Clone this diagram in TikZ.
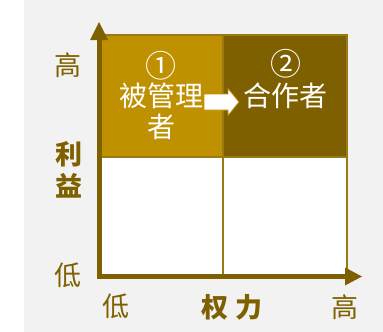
\documentclass[tikz,border=0pt]{standalone}
\usepackage{fontspec}
\newfontfamily\cjk{Noto Sans CJK SC}
\begin{document}
\begin{tikzpicture}[x=1pt,y=-1pt,
  cell/.style={draw=cellline,line width=2pt},
  axis/.style={draw=axisc,line width=5pt},
  tip/.style={fill=axisc},
  intext/.style={text=white,font=\cjk\fontsize{28}{32}\selectfont,inner sep=0pt},
  circ/.style={text=white,font=\cjk\fontsize{31}{34}\selectfont,inner sep=0pt},
  lab/.style={text=axisc,font=\cjk\fontsize{27}{30}\selectfont,inner sep=0pt},
  blab/.style={text=axisc,font=\cjk\bfseries\fontsize{27}{30}\selectfont,inner sep=0pt},
  blockarrow/.style={fill=white,draw=gold,line width=0.8pt,line join=miter}]
\definecolor{gold}{HTML}{BF9000}
\definecolor{dark}{HTML}{7F6000}
\definecolor{axisc}{HTML}{7F6000}
\definecolor{cellline}{HTML}{9A7A14}
\definecolor{bg}{HTML}{F2F2F2}
\useasboundingbox (0,0) rectangle (383,332);
\fill[white] (0,0) rectangle (383,332);
\fill[bg] (24,0) rectangle (383,332);
% cells
\fill[gold] (101,35) rectangle (223,157);
\fill[dark] (223,35) rectangle (347,157);
\fill[white] (101,157) rectangle (223,276);
\fill[white] (223,157) rectangle (347,276);
\draw[cell] (101,35) rectangle (347,276);
\draw[cell] (223,35) -- (223,276);
\draw[cell] (101,157) -- (347,157);
% axes
\coordinate (o) at (99,276.5);
\coordinate (yt) at (99,39);
\coordinate (xt) at (346,276.5);
\draw[axis] (99,279) -- (yt);
\draw[axis] (96.5,276.5) -- (xt);
\fill[tip] (99,22) -- (108,40) -- (90,40) -- cycle;
\fill[tip] (362,276.5) -- (345,267.5) -- (345,285.5) -- cycle;
% cell texts
\node[circ] (n1) at (161,66) {①};
\node[intext] (t1) at (161.5,96) {被管理};
\node[intext] (t1b) at (161,127) {者};
\node[circ] (n2) at (285.5,64) {②};
\node[intext] (t2) at (285,96) {合作者};
% block arrow
\draw[blockarrow] (204,94) -- (228,94) -- (228,88.5) -- (239,102) -- (228,115.5) -- (228,110) -- (204,110) -- cycle;
% axis labels
\node[lab] (yh) at (68,65) {高};
\node[blab] (y1) at (68.5,154) {利};
\node[blab] (y2) at (68.5,185.5) {益};
\node[lab] (yl) at (68,275.5) {低};
\node[lab] (xl) at (116,306.5) {低};
\node[blab] (x1) at (214.5,307.5) {权};
\node[blab] (x2) at (249,307.5) {力};
\node[lab] (xh) at (344.5,307) {高};
\end{tikzpicture}
\end{document}
